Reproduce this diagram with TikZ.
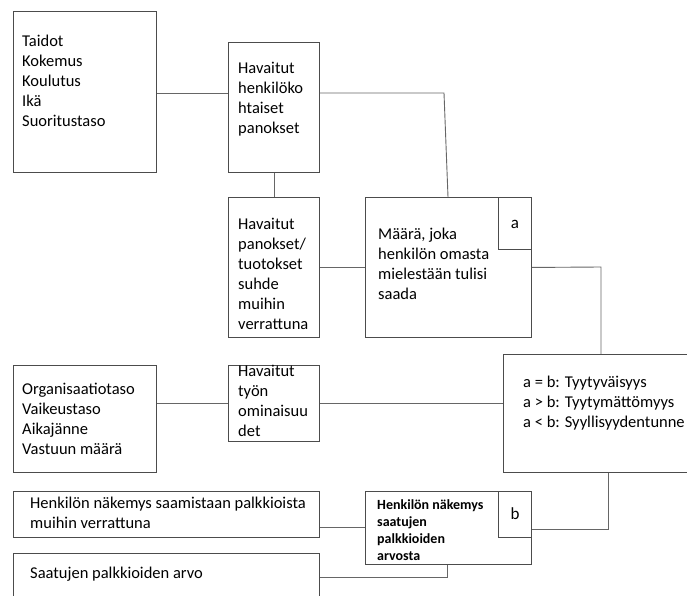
\documentclass[tikz,border=0pt]{standalone}
\usepackage{fontspec}
\setmainfont{Carlito}
\begin{document}
\begin{tikzpicture}[x=1pt,y=-1pt,
  box/.style={draw=black!70, line width=0.9pt, anchor=north west, inner sep=0pt},
  wire/.style={draw=black!60, line width=0.9pt},
  % text blocks: placed by the top of the first line's strut (baseline - strut height)
  txt/.style={anchor=north west, inner sep=0pt, font=\fontsize{16.5}{20}\selectfont,
    align=left, execute at begin node=\strut},
  smalltxt/.style={anchor=north west, inner sep=0pt, font=\fontsize{14}{17}\selectfont\bfseries,
    align=left, execute at begin node=\strut},
  tag/.style={anchor=base, inner sep=0pt, font=\fontsize{17}{20}\selectfont}]
\useasboundingbox (0,0) rectangle (687,596);

% boxes
\node[box, minimum width=143pt, minimum height=161pt] (b1) at (13,11) {};
\node[box, minimum width=91pt, minimum height=130pt] (b2) at (228,42) {};
\node[box, minimum width=91pt, minimum height=140pt] (b3) at (228,197) {};
\node[box, minimum width=166pt, minimum height=140pt] (b4) at (365,197) {};
\node[box, minimum width=33pt, minimum height=52pt] (ba) at (498,197) {};
\node[box, minimum width=200pt, minimum height=118pt] (b5) at (503,354) {};
\node[box, minimum width=143pt, minimum height=107pt] (b6) at (13,365) {};
\node[box, minimum width=91pt, minimum height=76pt] (b7) at (228,365) {};
\node[box, minimum width=306pt, minimum height=46pt] (b8) at (13,491) {};
\node[box, minimum width=166pt, minimum height=73pt] (b9) at (365,491) {};
\node[box, minimum width=33pt, minimum height=46pt] (bb) at (498,491) {};
\node[box, minimum width=306pt, minimum height=70pt] (b10) at (13,553) {};

% texts
\node[txt] (t1) at (22,49-14) {Taidot\\Kokemus\\Koulutus\\Ikä\\Suoritustaso};
\node[txt] (t2) at (238,76-14) {Havaitut\\henkilöko\\htaiset\\panokset};
\node[txt] (t3) at (238,232-14) {Havaitut\\panokset/\\tuotokset\\suhde\\muihin\\verrattuna};
\node[txt] (t4) at (378,242-14) {Määrä, joka\\henkilön omasta\\mielestään tulisi\\saada};
\node[tag] (ta) at (515,228) {a};
\node[txt] (t5) at (523,390-14) {a = b: Tyytyväisyys\\a > b: Tyytymättömyys\\a < b: Syyllisyydentunne};
\node[txt] (t6) at (22,397-14) {Organisaatiotaso\\Vaikeustaso\\Aikajänne\\Vastuun määrä};
\node[txt] (t7) at (238,379-14) {Havaitut\\työn\\ominaisuu\\det};
\node[txt] (t8) at (30,511-14) {Henkilön näkemys saamistaan palkkioista\\muihin verrattuna};
\node[smalltxt] (t9) at (377,511-11.9) {Henkilön näkemys\\saatujen\\palkkioiden\\arvosta};
\node[tag] (tb) at (515,519) {b};
\node[txt] (t10) at (30,578-14) {Saatujen palkkioiden arvo};

% connector corners
\coordinate (k1) at (444,93);
\coordinate (k2) at (601,267);
\coordinate (k3) at (608,529);
\coordinate (k4) at (447,577);
\coordinate (k5) at (0,527);

% connectors
\draw[wire] (b1.east |- k1) -- (b2.west |- k1);
\draw[wire] (b2.east |- k1) -- (k1) -- (b4.north -| 448,0);
\draw[wire] (b2.south) -- (b3.north);
\draw[wire] (b3.east) -- (b4.west);
\draw[wire] (b4.east) -- (k2) -- (b5.north -| k2);
\draw[wire] (b6.east |- b7.west) -- (b7.west);
\draw[wire] (b7.east) -- (b7.east -| b5.west);
\draw[wire] (b8.east |- k5) -- (b9.west |- k5);
\draw[wire] (b9.east |- k3) -- (k3) -- (b5.south -| k3);
\draw[wire] (b10.east |- k4) -- (k4) -- (b9.south -| k4);
\end{tikzpicture}
\end{document}
